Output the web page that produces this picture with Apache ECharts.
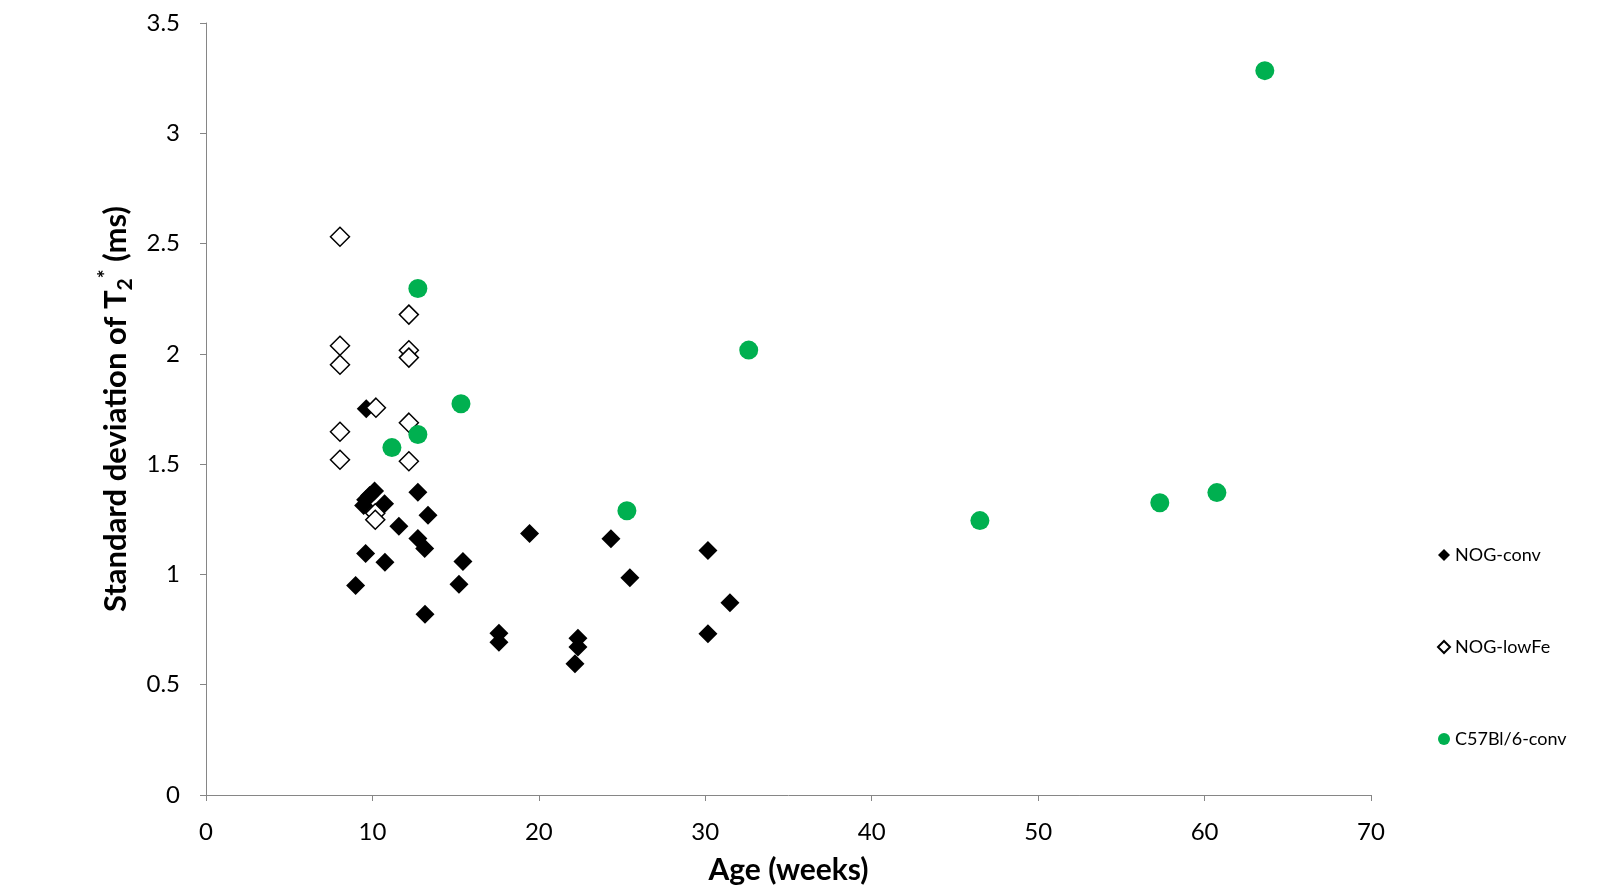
<!DOCTYPE html>
<html>
<head>
<meta charset="utf-8">
<script src="https://cdn.jsdelivr.net/npm/echarts@6/dist/echarts.min.js"></script>
<style>
  html, body { margin: 0; padding: 0; background: #fff; }
  #chart { width: 1618px; height: 892px; }
</style>
</head>
<body>
<div id="chart"></div>
<script>
// NOG-conv (filled diamonds)
var convAge = [9.63, 10.13, 9.83, 9.59, 9.47, 10.73, 12.73, 13.34, 11.59, 12.73, 13.14, 19.44, 9.59, 10.75, 15.44, 8.99, 15.2, 13.16, 17.6, 17.6, 24.33, 25.47, 30.16, 31.48, 30.16, 22.35, 22.35, 22.17];
var convSd = [1.751, 1.378, 1.358, 1.339, 1.313, 1.321, 1.373, 1.268, 1.218, 1.163, 1.118, 1.186, 1.095, 1.055, 1.059, 0.95, 0.955, 0.819, 0.733, 0.693, 1.162, 0.985, 1.108, 0.872, 0.731, 0.711, 0.671, 0.595];

// NOG-lowFe (open diamonds)
var lowFeAge = [8.05, 8.05, 8.05, 8.05, 8.05, 12.19, 12.19, 12.19, 12.19, 12.19, 10.21, 10.17, 10.17];
var lowFeSd = [2.531, 2.037, 1.951, 1.647, 1.52, 2.178, 2.016, 1.983, 1.688, 1.513, 1.756, 1.277, 1.248];

// C57Bl/6-conv (green circles)
var c57Age = [12.73, 15.32, 11.17, 12.73, 32.61, 25.29, 46.5, 57.31, 60.74, 63.62];
var c57Sd = [2.296, 1.774, 1.575, 1.634, 2.017, 1.289, 1.244, 1.325, 1.371, 3.284];

function pairs(xs, ys) {
  return xs.map(function (x, i) { return [x, ys[i]]; });
}

var myChart = echarts.init(document.getElementById("chart"));
var font = "Lato, 'Open Sans', sans-serif";

var option = {
  backgroundColor: "#fff",
  animation: false,
  textStyle: { fontFamily: font },
  grid: {
    left: 206,
    right: 247,
    top: 23,
    bottom: 97,
  },
  legend: {
    orient: "vertical",
    left: 1432,
    top: 540,
    itemWidth: 12,
    itemHeight: 12,
    itemGap: 72,
    textStyle: { fontSize: 18, color: "#000", lineHeight: 20, fontFamily: font },
    data: [
      { name: "NOG-conv", icon: "diamond" },
      { name: "NOG-lowFe", icon: "diamond" },
      { name: "C57Bl/6-conv", icon: "circle" },
    ],
  },
  xAxis: {
    type: "value",
    min: 0,
    max: 70,
    interval: 10,
    name: "Age (weeks)",
    nameLocation: "middle",
    nameGap: 60,
    nameTextStyle: { fontSize: 30, fontWeight: "bold", color: "#000", fontFamily: font },
    splitLine: { show: false },
    axisLine: { show: true, lineStyle: { color: "#868686", width: 1 } },
    axisTick: { show: true, length: 6, lineStyle: { color: "#868686" } },
    axisLabel: { fontSize: 24, color: "#000", margin: 25, fontFamily: font },
  },
  yAxis: {
    type: "value",
    min: 0,
    max: 3.5,
    interval: 0.5,
    name: "{a|Standard deviation of T}{sub|2}{sup|*}{a| (ms)}",
    nameLocation: "middle",
    nameGap: 64,
    nameTextStyle: {
      color: "#000",
      rich: {
        a: { fontSize: 31, fontWeight: "bold", color: "#000", fontFamily: font, lineHeight: 40, verticalAlign: "middle" },
        sub: { fontSize: 21, fontWeight: "bold", color: "#000", fontFamily: font, verticalAlign: "bottom" },
        sup: { fontSize: 21, fontWeight: "bold", color: "#000", fontFamily: font, verticalAlign: "top" },
      },
    },
    splitLine: { show: false },
    axisLine: { show: true, lineStyle: { color: "#868686", width: 1 } },
    axisTick: { show: true, length: 6, lineStyle: { color: "#868686" } },
    axisLabel: { fontSize: 24, color: "#000", margin: 26, fontFamily: font },
  },
  series: [
    {
      name: "NOG-conv",
      type: "scatter",
      symbol: "diamond",
      symbolSize: 19,
      itemStyle: { color: "#000", opacity: 1 },
      data: pairs(convAge, convSd),
    },
    {
      name: "NOG-lowFe",
      type: "scatter",
      symbol: "diamond",
      symbolSize: 19,
      itemStyle: { color: "#fff", borderColor: "#000", borderWidth: 1.5, opacity: 1 },
      data: pairs(lowFeAge, lowFeSd),
    },
    {
      name: "C57Bl/6-conv",
      type: "scatter",
      symbol: "circle",
      symbolSize: 19,
      itemStyle: { color: "#00B050", opacity: 1 },
      data: pairs(c57Age, c57Sd),
    },
  ],
};

myChart.setOption(option);

window.addEventListener("resize", () => {
  if (myChart) myChart.resize();
});
</script>
</body>
</html>
